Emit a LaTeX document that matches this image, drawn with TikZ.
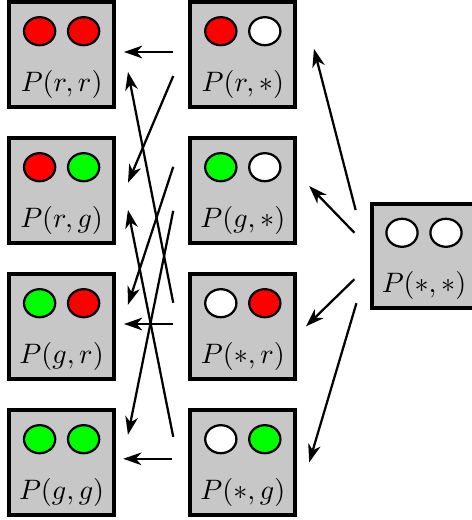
\documentclass[tikz,border=0pt]{standalone}
\usepackage{amsmath}
\usepackage{amssymb}
\usetikzlibrary{arrows.meta}

\begin{document}
\begin{tikzpicture}[thick, >={Stealth[length=6.5pt,width=4.5pt,inset=2pt]},
    box/.style={draw, fill=black!22, line width=1.4pt, minimum size=1.31cm, inner sep=0pt},
    lamp/.style={draw, thick}]
          \useasboundingbox (0,0) rectangle (5.9,-6.5);
          % Left column: both lights known
          \node[box] (rr) at (0.77,-0.68) {};
          \draw[lamp, fill=red] ([xshift=-0.275cm,yshift=0.29cm]rr.center) ellipse (0.195cm and 0.175cm);
          \draw[lamp, fill=red] ([xshift=0.275cm,yshift=0.29cm]rr.center) ellipse (0.195cm and 0.175cm);
          \node (rr-p) at ([yshift=-0.37cm]rr.center) {$P(r,r)$};
          \node[box] (rg) at (0.77,-2.38) {};
          \draw[lamp, fill=red] ([xshift=-0.275cm,yshift=0.29cm]rg.center) ellipse (0.195cm and 0.175cm);
          \draw[lamp, fill=green] ([xshift=0.275cm,yshift=0.29cm]rg.center) ellipse (0.195cm and 0.175cm);
          \node (rg-p) at ([yshift=-0.37cm]rg.center) {$P(r,g)$};
          \node[box] (gr) at (0.77,-4.08) {};
          \draw[lamp, fill=green] ([xshift=-0.275cm,yshift=0.29cm]gr.center) ellipse (0.195cm and 0.175cm);
          \draw[lamp, fill=red] ([xshift=0.275cm,yshift=0.29cm]gr.center) ellipse (0.195cm and 0.175cm);
          \node (gr-p) at ([yshift=-0.37cm]gr.center) {$P(g,r)$};
          \node[box] (gg) at (0.77,-5.78) {};
          \draw[lamp, fill=green] ([xshift=-0.275cm,yshift=0.29cm]gg.center) ellipse (0.195cm and 0.175cm);
          \draw[lamp, fill=green] ([xshift=0.275cm,yshift=0.29cm]gg.center) ellipse (0.195cm and 0.175cm);
          \node (gg-p) at ([yshift=-0.37cm]gg.center) {$P(g,g)$};
          % Middle column: one light known
          \node[box] (rs) at (3.035,-0.68) {};
          \draw[lamp, fill=red] ([xshift=-0.275cm,yshift=0.29cm]rs.center) ellipse (0.195cm and 0.175cm);
          \draw[lamp, fill=white] ([xshift=0.275cm,yshift=0.29cm]rs.center) ellipse (0.195cm and 0.175cm);
          \node (rs-p) at ([yshift=-0.37cm]rs.center) {$P(r,*)$};
          \node[box] (gs) at (3.035,-2.38) {};
          \draw[lamp, fill=green] ([xshift=-0.275cm,yshift=0.29cm]gs.center) ellipse (0.195cm and 0.175cm);
          \draw[lamp, fill=white] ([xshift=0.275cm,yshift=0.29cm]gs.center) ellipse (0.195cm and 0.175cm);
          \node (gs-p) at ([yshift=-0.37cm]gs.center) {$P(g,*)$};
          \node[box] (sr) at (3.035,-4.08) {};
          \draw[lamp, fill=white] ([xshift=-0.275cm,yshift=0.29cm]sr.center) ellipse (0.195cm and 0.175cm);
          \draw[lamp, fill=red] ([xshift=0.275cm,yshift=0.29cm]sr.center) ellipse (0.195cm and 0.175cm);
          \node (sr-p) at ([yshift=-0.37cm]sr.center) {$P(*,r)$};
          \node[box] (sg) at (3.035,-5.78) {};
          \draw[lamp, fill=white] ([xshift=-0.275cm,yshift=0.29cm]sg.center) ellipse (0.195cm and 0.175cm);
          \draw[lamp, fill=green] ([xshift=0.275cm,yshift=0.29cm]sg.center) ellipse (0.195cm and 0.175cm);
          \node (sg-p) at ([yshift=-0.37cm]sg.center) {$P(*,g)$};
          % Right: nothing known
          \node[box] (ss) at (5.3,-3.2) {};
          \draw[lamp, fill=white] ([xshift=-0.275cm,yshift=0.29cm]ss.center) ellipse (0.195cm and 0.175cm);
          \draw[lamp, fill=white] ([xshift=0.275cm,yshift=0.29cm]ss.center) ellipse (0.195cm and 0.175cm);
          \node (ss-p) at ([yshift=-0.37cm]ss.center) {$P(*,*)$};
          % Arrows into the left column
          \draw[->] ([xshift=-0.19cm,yshift=0.03cm]rs.west) -- ([xshift=0.1cm,yshift=0.03cm]rr.east);
          \draw[->] ([xshift=-0.19cm,yshift=-0.27cm]rs.west) -- ([xshift=0.15cm,yshift=0.095cm]rg.east);
          \draw[->] ([xshift=-0.19cm,yshift=0.295cm]gs.west) -- ([xshift=0.15cm,yshift=0.27cm]gr.east);
          \draw[->] ([xshift=-0.19cm,yshift=-0.255cm]gs.west) -- ([xshift=0.15cm,yshift=0.345cm]gg.east);
          \draw[->] ([xshift=-0.19cm,yshift=0.295cm]sr.west) -- ([xshift=0.15cm,yshift=-0.22cm]rr.east);
          \draw[->] ([xshift=-0.19cm,yshift=0.03cm]sr.west) -- ([xshift=0.1cm,yshift=0.03cm]gr.east);
          \draw[->] ([xshift=-0.19cm,yshift=0.32cm]sg.west) -- ([xshift=0.15cm,yshift=-0.245cm]rg.east);
          \draw[->] ([xshift=-0.21cm,yshift=0.045cm]sg.west) -- ([xshift=0.09cm,yshift=0.045cm]gg.east);
          % Arrows out of P(*,*)
          \draw[->] ([xshift=-0.175cm,yshift=0.575cm]ss.west) -- ([xshift=0.21cm,yshift=0.07cm]rs.east);
          \draw[->] ([xshift=-0.19cm,yshift=0.29cm]ss.west) -- ([xshift=0.15cm,yshift=0.055cm]gs.east);
          \draw[->] ([xshift=-0.19cm,yshift=-0.29cm]ss.west) -- ([xshift=0.11cm]sr.east);
          \draw[->] ([xshift=-0.165cm,yshift=-0.59cm]ss.west) -- ([xshift=0.15cm]sg.east);
        \end{tikzpicture}
\end{document}
